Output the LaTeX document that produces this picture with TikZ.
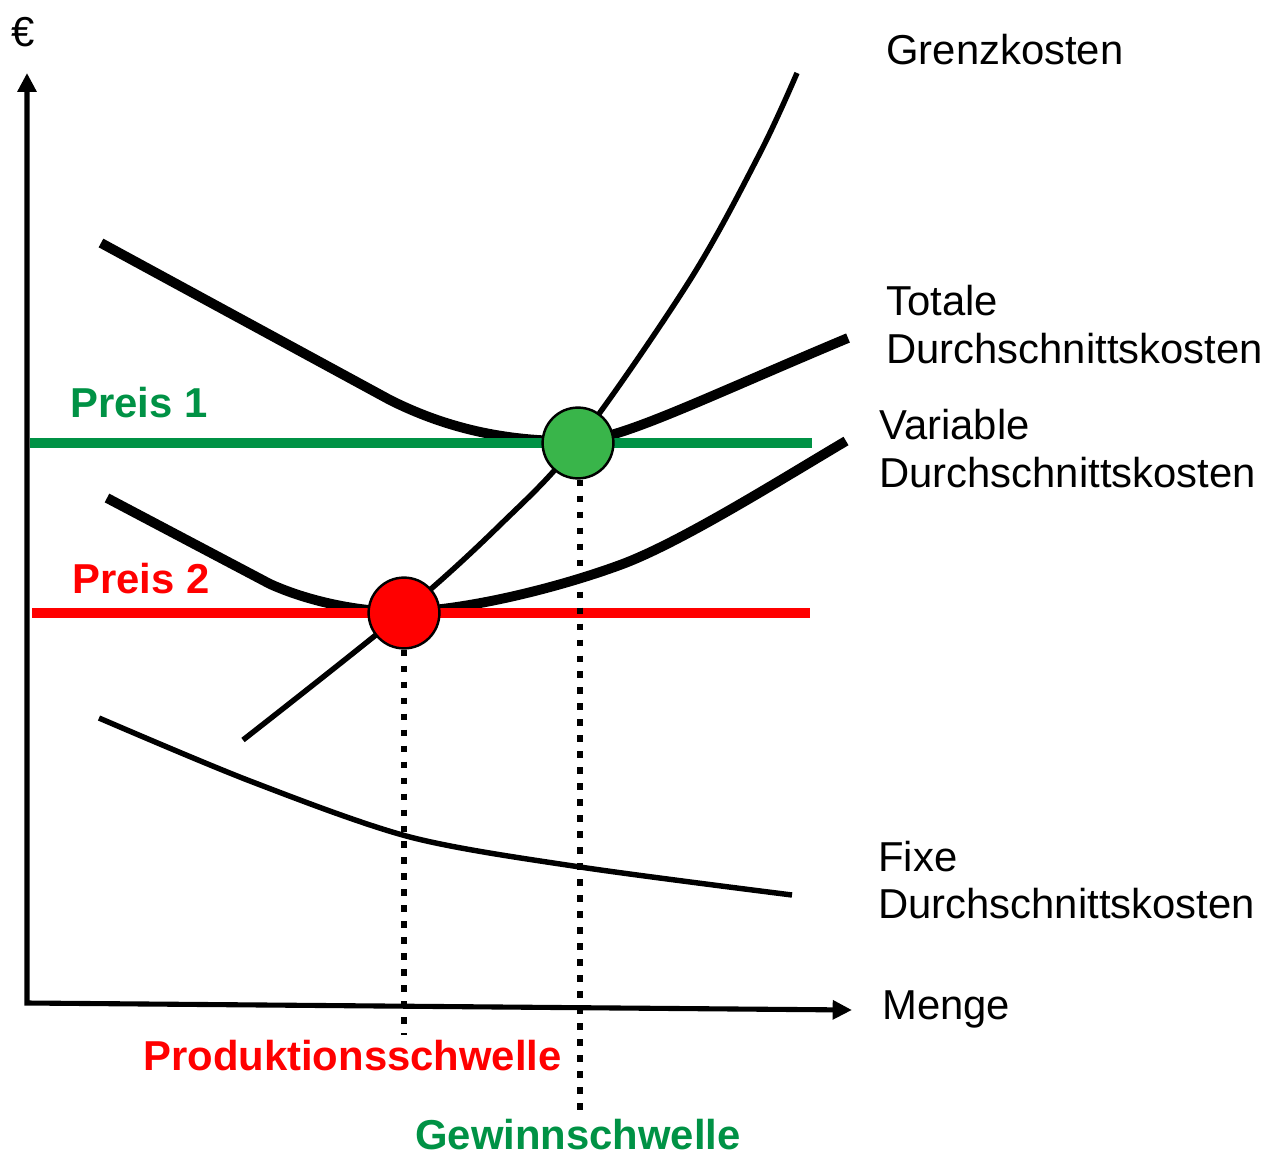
\documentclass[tikz,border=0pt]{standalone}
\usepackage{fontspec}
\setmainfont{Liberation Sans}
\usetikzlibrary{arrows.meta}
\definecolor{pgreen}{RGB}{0,146,69}
\definecolor{cgreen}{RGB}{57,181,74}
\definecolor{pred}{RGB}{255,0,0}
\begin{document}
\begin{tikzpicture}[x=0.02cm,y=-0.02cm,
  axisline/.style={line width=2.9pt,line join=miter,
    {Triangle[length=10.8pt,width=10.5pt]}-{Triangle[length=11pt,width=10.5pt]}},
  avgcurve/.style={line width=5.6pt},
  thincurve/.style={line width=3.1pt},
  priceline/.style={line width=6.2pt},
  dotline/.style={line width=3.8pt,dash pattern=on 3.8pt off 5.3pt},
  pdot/.style={circle,draw,line width=1.4pt,inner sep=0pt,minimum size=40.3pt},
  lbl/.style={anchor=base west,inner sep=0pt,font=\fontsize{23.8pt}{27pt}\selectfont},
  blbl/.style={anchor=base west,inner sep=0pt,font=\fontsize{23.8pt}{27pt}\selectfont\bfseries}]
\useasboundingbox (0,0) rectangle (1280,1158);

% axes
\coordinate (O) at (27,1003);
\coordinate (ytip) at (27,73);
\coordinate (xtip) at (852,1010);
\draw[axisline] (ytip) -- (O) -- (xtip);
\node[anchor=base,inner sep=0pt,font=\fontsize{23.8pt}{27pt}\selectfont] (euro) at (23,47) {€};
\node[lbl] (menge) at (882,1019) {Menge};

% average total cost
\draw[avgcurve] (101,243) -- (390,400) .. controls (450,430) and (510,442) .. (578,441)
  .. controls (620,440) and (700,400) .. (848,338);
% average variable cost
\draw[avgcurve] (107,498) -- (270,584) .. controls (310,602) and (360,612) .. (404,612)
  .. controls (470,610) and (560,587) .. (620,565) .. controls (680,543) and (780,480) .. (846,441);
% marginal cost
\draw[thincurve] plot[smooth,tension=0.55] coordinates {(243,740) (404,612) (500,525) (578,442) (690,280) (760,153) (797,73)};
% average fixed cost
\draw[thincurve] plot[smooth,tension=0.5] coordinates {(99,718) (250,781) (410,837) (580,867) (792,895)};

% price lines
\coordinate (p1a) at (30,443);
\coordinate (p1b) at (812,443);
\coordinate (p2a) at (32,613);
\coordinate (p2b) at (810,613);
\draw[priceline,pgreen] (p1a) -- (p1b);
\draw[priceline,pred] (p2a) -- (p2b);

% points
\node[pdot,fill=cgreen] (gc) at (578,443) {};
\node[pdot,fill=pred] (rc) at (404,613) {};

% dotted drops
\coordinate (rend) at (404,1035);
\coordinate (gend) at (580,1115);
\draw[dotline] (rc.south) -- (rend);
\draw[dotline] (gc.south -| gend) -- (gend);

% labels
\node[lbl] (grenz) at (886,65) {Grenzkosten};
\node[lbl] (atcA) at (886,316) {Totale};
\node[lbl] (atcB) at (886,364) {Durchschnittskosten};
\node[lbl] (avcA) at (879,439) {Variable};
\node[lbl] (avcB) at (879,487) {Durchschnittskosten};
\node[lbl] (afcA) at (878,871) {Fixe};
\node[lbl] (afcB) at (878,918) {Durchschnittskosten};

\node[blbl,text=pgreen] (preis1) at (70,418) {Preis 1};
\node[blbl,text=pred] (preis2) at (72,593) {Preis 2};
\node[blbl,text=pred] (prod) at (143,1070) {Produktionsschwelle};
\node[blbl,text=pgreen] (gewinn) at (415,1149) {Gewinnschwelle};
\end{tikzpicture}
\end{document}
